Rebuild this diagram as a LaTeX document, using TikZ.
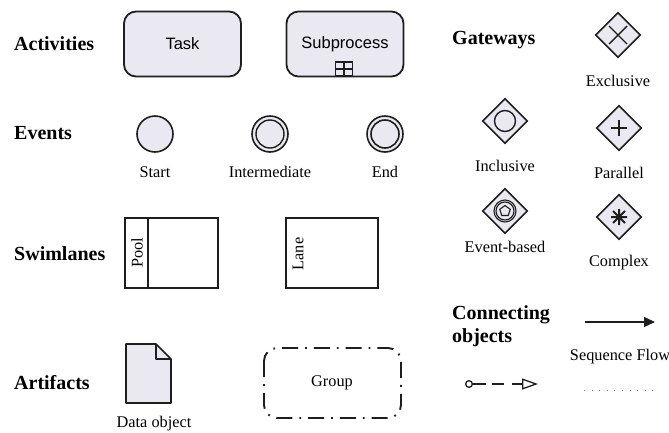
\documentclass[tikz,border=0pt]{standalone}
\usepackage{fontspec}
\setmainfont{Liberation Serif}
\setsansfont{Liberation Sans}
\usetikzlibrary{arrows.meta,shapes.geometric}
\definecolor{bpfill}{HTML}{EAE8F1}
\definecolor{bpline}{HTML}{1E1E1E}
\begin{document}
\begin{tikzpicture}[x=1pt,y=-1pt,
  heading/.style={anchor=west,inner sep=0pt,font=\fontsize{20}{23}\selectfont\bfseries},
  lbl/.style={inner sep=0pt,font=\fontsize{16.3}{19}\selectfont},
  activity/.style={draw=bpline,line width=1.8pt,fill=bpfill,rounded corners=12pt,minimum width=117pt,minimum height=65pt,inner sep=0pt,font=\sffamily\fontsize{16.5}{19}\selectfont},
  evt/.style={draw=bpline,line width=1.6pt,fill=bpfill,circle,minimum size=36pt,inner sep=0pt},
  gateway/.style={draw=bpline,line width=1.6pt,fill=bpfill,diamond,aspect=1,minimum width=45pt,minimum height=45pt,inner sep=0pt},
  gwmark/.style={draw=bpline,line width=1.4pt},
  lanebox/.style={draw=bpline,line width=1.6pt},
]
\useasboundingbox (0,0) rectangle (669,432);

% headings
\node[heading] (hact) at (14,44) {Activities};
\node[heading] (hev) at (14,133) {Events};
\node[heading] (hsw) at (14,254) {Swimlanes};
\node[heading] (hart) at (14,383) {Artifacts};
\node[heading] (hgw) at (452,40) {Gateways};
\node[heading] (hco1) at (452,315) {Connecting};
\node[heading] (hco2) at (452,338) {objects};

% activities
\node[activity] (task) at (182.5,44) {Task};
\node[activity] (sub) at (345,44) {Subprocess};
\draw[draw=bpline,line width=1.2pt,fill=bpfill] (335.5,62) rectangle (352.5,76);
\draw[draw=bpline,line width=1.2pt] (344,62) -- (344,76) (335.5,69) -- (352.5,69);

% events
\node[evt] (start) at (155,134) {};
\node[evt] (inter) at (270,134) {};
\node[evt,minimum size=28pt,line width=1.4pt] (interin) at (270,134) {};
\node[evt] (endev) at (385,134) {};
\node[evt,minimum size=28pt,line width=1.6pt] (endin) at (385,134) {};
\node[lbl] (lstart) at (155,172) {Start};
\node[lbl] (linter) at (270,172) {Intermediate};
\node[lbl] (lend) at (385,172) {End};

% swimlanes
\draw[lanebox] (125,218) rectangle (218,288);
\draw[lanebox] (148,218) -- (148,288);
\node[lbl,rotate=90] (lpool) at (137,253) {Pool};
\draw[lanebox] (286,218) rectangle (378,288);
\node[lbl,rotate=90] (llane) at (298,254) {Lane};

% artifacts
\draw[draw=bpline,line width=1.6pt,fill=bpfill,line join=round] (126,344) -- (156,344) -- (171,359) -- (171,403) -- (126,403) -- cycle;
\draw[draw=bpline,line width=1.6pt,line join=round] (156,344) -- (156,359) -- (171,359);
\node[lbl] (ldata) at (154,424) {Data object};
\draw[draw=bpline,line width=1.9pt,rounded corners=13pt,dash pattern=on 16pt off 7pt on 1.8pt off 7pt] (264,348) rectangle (401,418);
\node[lbl] (lgroup) at (332,383) {Group};

% gateways
\node[gateway] (gx) at (618,35) {};
\draw[gwmark] (gx.center) +(-9,-9) -- +(9,9) (gx.center) +(-9,9) -- +(9,-9);
\node[lbl] (lgx) at (618,81) {Exclusive};

\node[gateway] (gi) at (505,121) {};
\draw[gwmark] (gi.center) circle (10.5pt);
\node[lbl] (lgi) at (505,166) {Inclusive};

\node[gateway] (gp) at (619,128) {};
\draw[gwmark] (gp.center) +(-8,0) -- +(8,0) (gp.center) +(0,-8) -- +(0,8);
\node[lbl] (lgp) at (619,173) {Parallel};

\node[gateway] (ge) at (505,211) {};
\draw[gwmark,line width=1.1pt] (ge.center) circle (11pt) (ge.center) circle (9pt);
\node[draw=bpline,line width=1.1pt,regular polygon,regular polygon sides=5,minimum size=11pt,inner sep=0pt] (gepent) at (ge.center) {};
\node[lbl] (lge) at (505,247) {Event-based};

\node[gateway] (gc) at (619,217) {};
\draw[gwmark,line width=2pt] (gc.center) +(-8,0) -- +(8,0) (gc.center) +(0,-8) -- +(0,8)
  (gc.center) +(-6,-6) -- +(6,6) (gc.center) +(-6,6) -- +(6,-6);
\node[lbl] (lgc) at (619,263) {Complex};

% connecting objects
\coordinate (sfa) at (585,322);
\coordinate (sfb) at (655,322);
\draw[draw=bpline,line width=1.3pt,-{Triangle[length=11pt,width=10pt]}] (sfa) -- (sfb);
\node[lbl] (lsf) at (620,357) {Sequence Flow};
\coordinate (asa) at (584,390);
\coordinate (asb) at (653,390);
\draw[draw=bpline!60,line width=1pt,dash pattern=on 1pt off 6.6pt] (asa) -- (asb);
\coordinate (mfa) at (465,384);
\coordinate (mfb) at (538,384);
\draw[draw=bpline,line width=1.3pt,dash pattern=on 14pt off 6pt on 12pt off 8pt,
  {Circle[open,length=8pt,width=8pt]}-{Triangle[open,length=16pt,width=11pt]}] (mfa) -- (mfb);
\end{tikzpicture}
\end{document}
